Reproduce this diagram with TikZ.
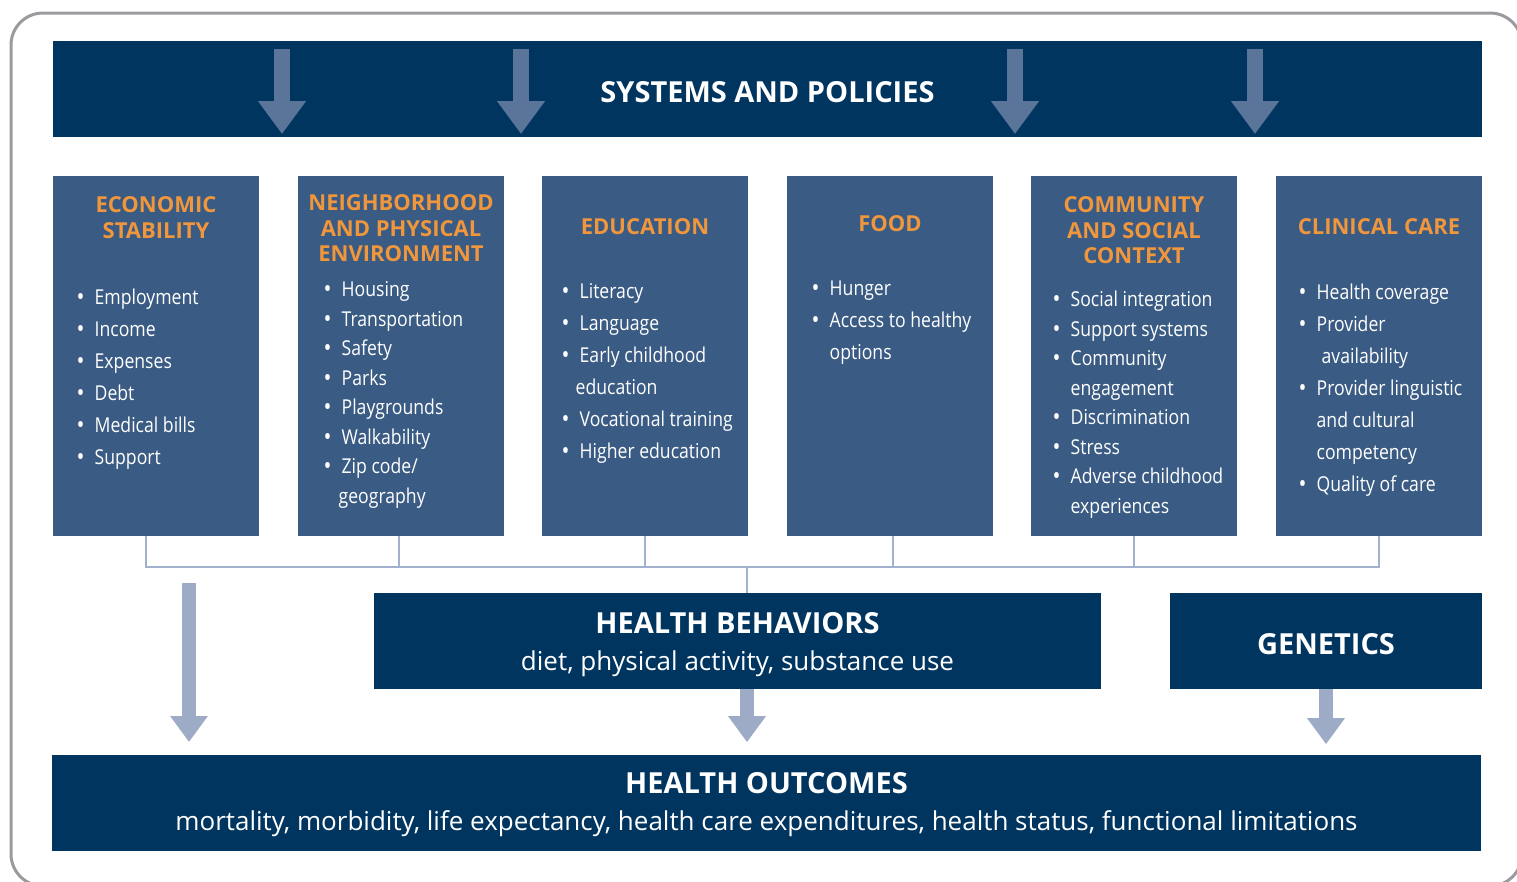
\documentclass[tikz,border=0pt]{standalone}
\usepackage{fontspec}
\setmainfont{Open Sans}
\newfontfamily\condfont[FakeStretch=0.86]{Open Sans}
\usetikzlibrary{arrows.meta}

\definecolor{navy}{HTML}{003560}
\definecolor{colblue}{HTML}{3A5B83}
\definecolor{titleorange}{HTML}{F0963C}
\definecolor{arrowdark}{HTML}{5B7499}
\definecolor{arrowlight}{HTML}{9EABC6}
\definecolor{linkblue}{HTML}{A2B2CE}
\definecolor{framegray}{HTML}{9B9B9F}

\tikzset{
  banner/.style={fill=navy, text=white, inner sep=0, minimum height=96pt},
  column/.style={fill=colblue, inner sep=0, minimum width=206pt, minimum height=360pt},
  coltitle/.style={text=titleorange, inner sep=0, align=center,
    font=\fontsize{22}{25.5}\selectfont\bfseries},
  bullets/.style={text=white, inner sep=0, anchor=north west,
    font=\condfont\fontsize{20.5}{32}\selectfont},
  tightbullets/.style={bullets, font=\condfont\fontsize{20.5}{29.5}\selectfont},
  link/.style={draw=linkblue, line width=2.5pt},
  toparrow/.style={draw=arrowdark, line width=16pt, -{Triangle[width=46pt,length=33pt]}},
  lowarrow/.style={draw=arrowlight, line width=14pt, -{Triangle[width=36pt,length=26pt]}}
}

\newcommand{\dotmark}{\raisebox{-1pt}{\scalebox{1.2}{\textbullet}}}
\newcommand{\itemrows}[1]{\begin{tabular}{@{}l@{\hspace{10pt}}l@{}}#1\end{tabular}}

\begin{document}
\begin{tikzpicture}[x=1pt,y=-1pt]
\useasboundingbox (0,0) rectangle (1517,881);
\draw[framegray, line width=3pt, rounded corners=32pt] (11,13) rectangle (1522,886);

% systems and policies
\node[banner, minimum width=1429pt, font=\fontsize{29}{34}\selectfont\bfseries] (policies) at (767.5,89) {\rule{0pt}{26.7pt}SYSTEMS AND POLICIES};
\draw[toparrow] (282,49) -- (282,134);
\draw[toparrow] (521,49) -- (521,134);
\draw[toparrow] (1015,49) -- (1015,134);
\draw[toparrow] (1255,49) -- (1255,134);

% the six columns
\node[column] (econ) at (156,356) {};
\node[column] (nbhd) at (401,356) {};
\node[column] (educ) at (645,356) {};
\node[column] (food) at (890,356) {};
\node[column] (comm) at (1134,356) {};
\node[column] (clin) at (1379,356) {};

\node[coltitle] (econtitle) at (156,217.5) {ECONOMIC\\STABILITY};
\node[coltitle] (nbhdtitle) at (401,228.5) {NEIGHBORHOOD\\AND PHYSICAL\\ENVIRONMENT};
\node[coltitle] (eductitle) at (645,227) {EDUCATION};
\node[coltitle] (foodtitle) at (890,224) {FOOD};
\node[coltitle] (commtitle) at (1134,230.5) {COMMUNITY\\AND SOCIAL\\CONTEXT};
\node[coltitle] (clintitle) at (1379,227) {CLINICAL CARE};

\node[bullets] (econlist) at (76.5,282) {\itemrows{
  \dotmark & Employment\\
  \dotmark & Income\\
  \dotmark & Expenses\\
  \dotmark & Debt\\
  \dotmark & Medical bills\\
  \dotmark & Support}};
\node[tightbullets] (nbhdlist) at (323.5,276) {\itemrows{
  \dotmark & Housing\\
  \dotmark & Transportation\\
  \dotmark & Safety\\
  \dotmark & Parks\\
  \dotmark & Playgrounds\\
  \dotmark & Walkability\\
  \dotmark & Zip code/\\
  & \hspace{-3pt}geography}};
\node[bullets] (educlist) at (561.5,276) {\itemrows{
  \dotmark & Literacy\\
  \dotmark & Language\\
  \dotmark & Early childhood\\
  & \hspace{-4pt}education\\
  \dotmark & Vocational training\\
  \dotmark & Higher education}};
\node[bullets] (foodlist) at (811.5,273) {\itemrows{
  \dotmark & Hunger\\
  \dotmark & Access to healthy\\
  & options}};
\node[tightbullets] (commlist) at (1052.5,286) {\itemrows{
  \dotmark & Social integration\\
  \dotmark & Support systems\\
  \dotmark & Community\\
  & engagement\\
  \dotmark & Discrimination\\
  \dotmark & Stress\\
  \dotmark & Adverse childhood\\
  & experiences}};
\node[bullets] (clinlist) at (1298.5,277) {\itemrows{
  \dotmark & Health coverage\\
  \dotmark & Provider\\
  & \hspace{5pt}availability\\
  \dotmark & Provider linguistic\\
  & and cultural\\
  & competency\\
  \dotmark & Quality of care}};

% lower boxes
\node[banner, minimum width=727pt, align=center, font=\fontsize{26}{37}\selectfont] (behav) at (737.5,641) {\rule{0pt}{28pt}{\fontsize{29}{37}\selectfont\bfseries HEALTH BEHAVIORS}\\diet, physical activity, substance use};
\node[banner, minimum width=312pt, font=\fontsize{29}{37}\selectfont\bfseries] (genes) at (1326,641) {\rule{0pt}{26.7pt}GENETICS};
\node[banner, minimum width=1429pt, align=center, font=\fontsize{26}{37}\selectfont] (outcomes) at (766.5,803) {\rule{0pt}{24pt}{\fontsize{29}{37}\selectfont\bfseries HEALTH OUTCOMES}\\mortality, morbidity, life expectancy, health care expenditures, health status, functional limitations};

% links from the columns
\coordinate (bus) at (747,567);
\draw[link] ([xshift=-10pt]econ.south) |- (clin.south |- bus) -- (clin.south);
\draw[link] ([xshift=-2pt]nbhd.south) -- ([xshift=-2pt]nbhd.south |- bus);
\draw[link] (educ.south) -- (educ.south |- bus);
\draw[link] ([xshift=3pt]food.south) -- ([xshift=3pt]food.south |- bus);
\draw[link] (comm.south) -- (comm.south |- bus);
\draw[link] (bus) -- (bus |- behav.north);

% arrows into outcomes
\coordinate (econdrop) at (189,583);
\coordinate (econtip) at (189,742);
\draw[lowarrow] (econdrop) -- (econtip);
\draw[lowarrow] ([xshift=9.5pt]behav.south) -- ++(0,53);
\draw[lowarrow] (genes.south) -- ++(0,55);
\end{tikzpicture}
\end{document}
